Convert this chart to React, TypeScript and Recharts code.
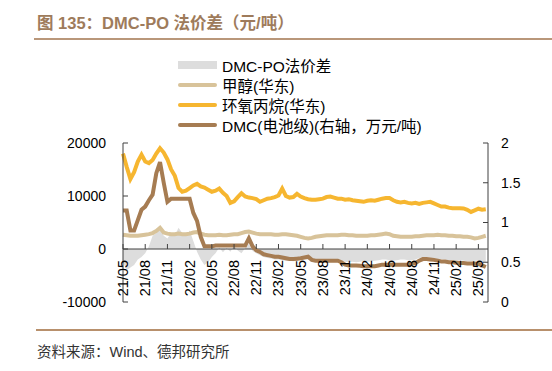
import React from "react";
import { ComposedChart, Area, Line, XAxis, YAxis, ReferenceLine } from "recharts";

// 半月一个点，t = 自 21/05 起的月数
const TICK_LABELS = [
  "21/05", "21/08", "21/11", "22/02", "22/05", "22/08", "22/11", "23/02", "23/05",
  "23/08", "23/11", "24/02", "24/05", "24/08", "24/11", "25/02", "25/05",
];

// DMC-PO 法价差（元/吨）
const spread = [
  -2500, -4000, -3500, -3000, -2000, -1500, -800, 500, 2500, 3000,
  4000, 2500, 2000, 3000, 2500, 4000, 3000, 2500, 3500, 1500,
  -500, -2000, -3000, -2500, -1500, -800, 300, -600, 200, -500,
  600, -300, -800, 200, 1000, -400, -800, -1200, -1500, -1700,
  -1800, -2000, -2000, -2100, -2200, -2200, -2300, -2200, -2000, -1900,
  -2000, -2200, -2300, -2200, -2100, -2200, -2300, -2200, -2300, -2200,
  -2400, -2500, -2400, -2500, -2400, -2300, -2400, -2300, -2200, -2100,
  -2000, -2000, -2100, -2200, -2100, -2000, -2000, -2100, -2100, -2000,
  -1700, -1600, -1600, -1700, -1800, -1900, -1900, -2000, -2100, -2100,
  -2200, -2100, -2200, -2300, -2300, -2200, -2200, -2400, -2500,
];

// 甲醇(华东)
const methanol = [
  2700, 2600, 2500, 2500, 2500, 2600, 2700, 2800, 3000, 3400,
  4000, 3100, 2900, 2800, 2800, 2900, 2800, 2800, 2900, 3100,
  3200, 2900, 2700, 2600, 2600, 2600, 2700, 2600, 2600, 2700,
  2800, 2800, 3000, 3200, 3300, 3100, 2900, 2800, 2800, 2800,
  2800, 2700, 2700, 2800, 2800, 2700, 2600, 2500, 2300, 2100,
  2000, 2100, 2300, 2400, 2500, 2600, 2600, 2600, 2600, 2700,
  2700, 2600, 2600, 2500, 2500, 2500, 2500, 2600, 2600, 2700,
  2800, 2900, 2800, 2500, 2400, 2300, 2300, 2300, 2300, 2400,
  2400, 2500, 2600, 2600, 2600, 2700, 2600, 2600, 2500, 2500,
  2400, 2400, 2300, 2300, 2200, 2000, 2100, 2300, 2500,
];

// 环氧丙烷(华东)
const po = [
  18000, 15500, 13200, 14500, 16500, 17800, 16500, 16200, 16800, 18000,
  19000, 18200, 16900, 15000, 13800, 11500, 10800, 11000, 11500, 12000,
  12300, 11800, 11600, 11200, 10800, 11000, 11400, 10600, 10000, 8700,
  9000, 9800, 10500, 9900, 9700, 9600, 9400, 8900, 9200, 9500,
  9600, 9800, 10100, 11400, 10000, 9700, 9800, 10400, 9900, 9600,
  9400, 9300, 9300, 9400, 9500, 9800, 9900, 9700, 9500, 9500,
  9300, 9400, 9200, 9100, 9000, 8900, 9100, 9200, 9100, 9300,
  9500, 9600, 9600, 9200, 8900, 8800, 8900, 8700, 8600, 8700,
  8500, 8700, 8800, 8900, 8600, 8300, 8000, 8000, 7800, 7700,
  7700, 7700, 7650, 7400, 7000, 7300, 7600, 7400, 7500,
];

// DMC(电池级)，右轴，万元/吨
const dmc = [
  1.15, 1.15, 0.9, 0.9, 1.03, 1.16, 1.2, 1.28, 1.35, 1.62,
  1.76, 1.5, 1.26, 1.3, 1.3, 1.3, 1.3, 1.3, 1.3, 1.12,
  1.02, 0.82, 0.7, 0.7, 0.7, 0.71, 0.71, 0.71, 0.71, 0.71,
  0.71, 0.71, 0.71, 0.71, 0.8, 0.7, 0.65, 0.63, 0.6, 0.59,
  0.58, 0.57, 0.57, 0.56, 0.55, 0.54, 0.54, 0.545, 0.55, 0.56,
  0.57, 0.53, 0.52, 0.52, 0.52, 0.52, 0.52, 0.52, 0.52, 0.5,
  0.47, 0.46, 0.46, 0.46, 0.455, 0.45, 0.45, 0.45, 0.45, 0.46,
  0.47, 0.47, 0.47, 0.47, 0.47, 0.47, 0.47, 0.47, 0.48, 0.49,
  0.52, 0.54, 0.54, 0.535, 0.53, 0.52, 0.51, 0.51, 0.5, 0.5,
  0.495, 0.49, 0.49, 0.485, 0.485, 0.485, 0.48, 0.46, 0.44,
];

const data = po.map((v, i) => ({
  t: i / 2,
  spread: spread[i],
  methanol: methanol[i],
  po: v,
  dmc: dmc[i],
}));

const FONT = "'Liberation Sans', Arial, 'Noto Sans CJK SC', sans-serif";
const AXIS_C = "#404040";
const C_GRAY = "#dddddd";
const C_MEOH = "#d8c39a";
const C_PO = "#f6b630";
const C_DMC = "#a67c52";

const W = 552;
const H = 371;
const PLOT_TOP = 143;
const PLOT_BOTTOM = 302;
const ZERO_Y = PLOT_TOP + ((PLOT_BOTTOM - PLOT_TOP) * 2) / 3;

function XTick({ x, payload }: any) {
  const label = TICK_LABELS[Math.round(payload.value / 3)];
  return (
    <g>
      <line x1={x} x2={x} y1={ZERO_Y} y2={ZERO_Y - 5} stroke={AXIS_C} />
      <text
        transform={`translate(${x + 5},${ZERO_Y + 11}) rotate(-90)`}
        textAnchor="end"
        fontSize={14.5}
        fill="#000"
        fontFamily={FONT}
      >
        {label}
      </text>
    </g>
  );
}

const legendItems = [
  { name: "DMC-PO法价差", color: C_GRAY, box: true },
  { name: "甲醇(华东)", color: C_MEOH },
  { name: "环氧丙烷(华东)", color: C_PO },
  { name: "DMC(电池级)(右轴，万元/吨)", color: C_DMC },
];

export default function App() {
  return (
    <div style={{ position: "absolute", left: 0, top: 0, width: W, height: H, background: "#fff", fontFamily: FONT }}>
      <div style={{ position: "absolute", left: 37, top: 10, fontSize: 16.5, fontWeight: 700, color: "#9e7b5b", whiteSpace: "nowrap" }}>
        图 135：DMC-PO 法价差（元/吨）
      </div>
      <div style={{ position: "absolute", left: 34, right: 0, top: 38, height: 1.5, background: "#b9977a" }} />

      <ComposedChart
        width={W}
        height={H}
        data={data}
        margin={{ top: PLOT_TOP, left: 63, right: 24, bottom: 49 }}
      >
        <XAxis
          dataKey="t"
          type="number"
          domain={[0, 49.3]}
          ticks={TICK_LABELS.map((_, k) => k * 3)}
          axisLine={false}
          tickLine={false}
          tick={<XTick />}
          height={20}
          interval={0}
        />
        <YAxis
          yAxisId="L"
          domain={[-10000, 20000]}
          ticks={[-10000, 0, 10000, 20000]}
          width={60}
          axisLine={{ stroke: AXIS_C }}
          tickLine={{ stroke: AXIS_C }}
          tickSize={-5}
          tickMargin={22}
          tick={{ fill: "#000", fontSize: 14, fontFamily: FONT }}
        />
        <YAxis
          yAxisId="R"
          orientation="right"
          domain={[0, 2]}
          ticks={[0, 0.5, 1, 1.5, 2]}
          width={40}
          axisLine={{ stroke: AXIS_C }}
          tickLine={{ stroke: AXIS_C }}
          tickSize={-5}
          tickMargin={18}
          tick={{ fill: "#000", fontSize: 14, fontFamily: FONT, textAnchor: "start" }}
        />
        <Area
          yAxisId="L"
          dataKey="spread"
          type="linear"
          baseValue={0}
          fill={C_GRAY}
          fillOpacity={1}
          stroke="none"
          isAnimationActive={false}
        />
        <ReferenceLine yAxisId="L" y={0} stroke={AXIS_C} />
        <Line yAxisId="L" dataKey="methanol" type="linear" stroke={C_MEOH} strokeWidth={4} dot={false} isAnimationActive={false} />
        <Line yAxisId="L" dataKey="po" type="linear" stroke={C_PO} strokeWidth={4} dot={false} isAnimationActive={false} />
        <Line yAxisId="R" dataKey="dmc" type="linear" stroke={C_DMC} strokeWidth={4} dot={false} isAnimationActive={false} />
      </ComposedChart>

      {legendItems.map((it, k) => (
        <div
          key={it.name}
          style={{ position: "absolute", left: 178, top: 55 + k * 20, height: 20, display: "flex", alignItems: "center", whiteSpace: "nowrap" }}
        >
          <div
            style={{
              width: 39,
              height: it.box ? 8 : 4,
              borderRadius: it.box ? 0 : 2,
              background: it.color,
              marginRight: 5,
            }}
          />
          <span style={{ fontSize: 15.5, color: "#000" }}>{it.name}</span>
        </div>
      ))}

      <div style={{ position: "absolute", left: 36, right: 0, top: 329, height: 2, background: "#b8906c" }} />
      <div style={{ position: "absolute", left: 37, top: 340, fontSize: 14.5, color: "#333", whiteSpace: "nowrap" }}>
        资料来源：Wind、德邦研究所
      </div>
    </div>
  );
}
